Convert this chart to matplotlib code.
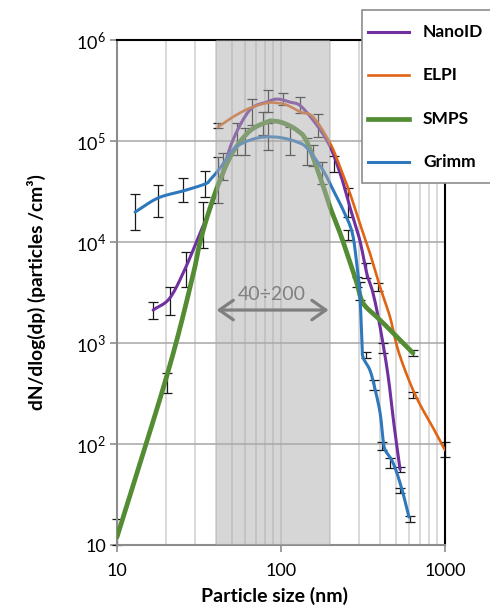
import numpy as np
import matplotlib
matplotlib.use("Agg")
import matplotlib.pyplot as plt
from matplotlib.lines import Line2D
from matplotlib.patches import Rectangle
from matplotlib.ticker import LogLocator, FixedLocator, FixedFormatter, NullLocator, NullFormatter

plt.rcParams["font.family"] = ["Lato", "DejaVu Sans"]
plt.rcParams["mathtext.fontset"] = "custom"
plt.rcParams["mathtext.rm"] = "Lato"

# Curves (particle size in nm, dN/dlog(dp) in particles/cm3)
nanoid_x = [16.6, 21.0, 26.3, 32.1, 36.9, 42.5, 50.9, 64.6, 82, 94.5, 113, 136, 190, 229, 263, 302, 333, 364, 402, 449, 489, 532]
nanoid_y = [2120, 2790, 5650, 12300, 20800, 41100, 102000, 203000, 243000, 260000, 243000, 212000, 102000, 48200, 22200, 10500, 4930, 3120, 1440, 482, 154, 56]

elpi_x = [41.4, 50.9, 64.6, 82, 94.5, 108.7, 131, 157, 199, 229, 263, 302, 348, 402, 462, 517, 612, 705, 845, 1000]
elpi_y = [138000, 173000, 212000, 238000, 238000, 227000, 194000, 173000, 95500, 55300, 30500, 15400, 7780, 3580, 1810, 853, 402, 245, 145, 87]

smps_x = [10, 20.2, 28.6, 32.1, 36.9, 42.5, 50.9, 64.6, 82, 89, 103, 125, 144, 178, 199, 229, 263, 290, 316, 384, 444, 532, 638]
smps_y = [12, 482, 4200, 10000, 21700, 41100, 77800, 126000, 154000, 158000, 151000, 128000, 97900, 38400, 22200, 12300, 6340, 3930, 2490, 1810, 1440, 1070, 796]

grimm_x = [12.9, 17.8, 25.3, 34.4, 36.9, 42.5, 50.9, 58.5, 71.4, 85.6, 103, 125, 144, 180, 208, 239, 272, 290, 302, 312, 316, 348, 372, 402, 419, 432, 473, 509, 554, 603]
grimm_y = [19800, 27300, 32000, 37500, 41100, 54000, 81500, 95500, 107000, 110000, 107000, 97900, 85300, 51600, 32700, 20800, 12300, 5920, 3160, 1000, 727, 541, 366, 203, 110, 87, 69.5, 51.6, 32.7, 18.9]

# Error bars (size, lower, upper)
nanoid_err_x = [16.6, 21.0, 26.3, 33.4, 41.4, 53.9, 83.3, 131, 210, 330, 419, 532]
nanoid_err_lo = [1730, 1890, 3580, 8730, 24300, 72600, 194000, 189000, 49300, 4400, 796, 52.8]
nanoid_err_hi = [2550, 3580, 7960, 24900, 69500, 151000, 320000, 273000, 71000, 6200, 1000, 59.2]

elpi_err_x = [41.4, 66.5, 103, 168, 255, 390, 638, 1000]
elpi_err_lo = [134600, 144000, 227000, 110000, 17700, 3300, 285, 74.3]
elpi_err_hi = [151000, 261000, 299000, 185000, 34300, 3900, 327, 105]

smps_err_x = [10, 20.2, 77.6, 144, 290, 638]
smps_err_lo = [10, 320, 115000, 57800, 3580, 743]
smps_err_hi = [18, 505, 194000, 107000, 4500, 853]

grimm_err_x = [12.9, 17.8, 25.3, 34.4, 44.2, 60.3, 83.3, 113, 157, 178, 255, 302, 330, 367, 415, 462, 532, 612]
grimm_err_lo = [13200, 17700, 24900, 27900, 41100, 72600, 81500, 72600, 56500, 37500, 10500, 2670, 710, 343, 87, 57.8, 32.7, 16.9]
grimm_err_hi = [29900, 36600, 43000, 50400, 76000, 134600, 151000, 138000, 91200, 62000, 13200, 4020, 815, 430, 105, 72.6, 36.6, 19.4]

range_lo, range_hi = 40, 200
y_ticks = [10, 1e2, 1e3, 1e4, 1e5, 1e6]
y_tick_labels = ["10", r"$10^{2}$", r"$10^{3}$", r"$10^{4}$", r"$10^{5}$", r"$10^{6}$"]
x_ticks = [10, 100, 1000]
x_tick_labels = ["10", "100", "1000"]


def smooth(xs, ys, n=12):
    # Catmull-Rom through the points in log-log space (like Excel smoothed lines)
    lx, ly = np.log10(xs), np.log10(ys)
    px = np.concatenate([[2 * lx[0] - lx[1]], lx, [2 * lx[-1] - lx[-2]]])
    py = np.concatenate([[2 * ly[0] - ly[1]], ly, [2 * ly[-1] - ly[-2]]])
    outx, outy = [], []
    t = np.linspace(0, 1, n, endpoint=False)
    for i in range(1, len(px) - 2):
        for p, out in ((px, outx), (py, outy)):
            p0, p1, p2, p3 = p[i - 1], p[i], p[i + 1], p[i + 2]
            out.extend(0.5 * ((2 * p1) + (-p0 + p2) * t
                              + (2 * p0 - 5 * p1 + 4 * p2 - p3) * t ** 2
                              + (-p0 + 3 * p1 - 3 * p2 + p3) * t ** 3))
    outx.append(lx[-1])
    outy.append(ly[-1])
    return 10 ** np.array(outx), 10 ** np.array(outy)


series = [
    ("NanoID", "#7030a0", 2.2, nanoid_x, nanoid_y, nanoid_err_x, nanoid_err_lo, nanoid_err_hi),
    ("ELPI", "#e06414", 1.9, elpi_x, elpi_y, elpi_err_x, elpi_err_lo, elpi_err_hi),
    ("SMPS", "#548c34", 3.4, smps_x, smps_y, smps_err_x, smps_err_lo, smps_err_hi),
    ("Grimm", "#2e78bc", 2.2, grimm_x, grimm_y, grimm_err_x, grimm_err_lo, grimm_err_hi),
]

fig = plt.figure(figsize=(4.9, 6.08), dpi=100)
ax = fig.add_axes([117 / 490, 63 / 608, 328 / 490, 505 / 608])
ax.set_xscale("log")
ax.set_yscale("log")
ax.set_xlim(10, 1000)
ax.set_ylim(10, 1e6)

# Error bars below the lines
for name, color, lw, x, y, ex, elo, ehi in series:
    ex, elo, ehi = np.array(ex), np.array(elo), np.array(ehi)
    mid = np.sqrt(elo * ehi)
    ax.errorbar(ex, mid, yerr=[mid - elo, ehi - mid], fmt="none", ecolor="#1a1a1a",
                elinewidth=0.9, capsize=3.5, capthick=0.9, zorder=2, clip_on=False)

for name, color, lw, x, y, ex, elo, ehi in series:
    sx, sy = smooth(x, y)
    ax.plot(sx, sy, color=color, lw=lw, solid_capstyle="round", zorder=3)

# Shaded size range on top, semi transparent
ax.axvspan(range_lo, range_hi, color="#b0aeb0", alpha=0.5, lw=0, zorder=4)
ax.annotate("", xy=(195, 2120), xytext=(40.5, 2120),
            arrowprops=dict(arrowstyle="<->,head_length=0.5,head_width=0.35", color="#7f7f7f",
                            lw=2.3, mutation_scale=20, shrinkA=0, shrinkB=0), zorder=6)
ax.text(88, 3050, "40÷200", color="#808080", fontsize=14, ha="center", va="center", zorder=6)

# Axes styling
ax.xaxis.set_major_locator(FixedLocator(x_ticks))
ax.xaxis.set_major_formatter(FixedFormatter(x_tick_labels))
ax.xaxis.set_minor_locator(LogLocator(base=10, subs=np.arange(2, 10)))
ax.xaxis.set_minor_formatter(NullFormatter())
ax.yaxis.set_major_locator(FixedLocator(y_ticks))
ax.yaxis.set_major_formatter(FixedFormatter(y_tick_labels))
ax.yaxis.set_minor_locator(NullLocator())

ax.grid(which="major", axis="y", color="#a6a6a6", lw=1.1)
ax.grid(which="both", axis="x", color="#cfcfcf", lw=1.1)
ax.set_axisbelow(True)

ax.tick_params(axis="both", which="major", labelsize=13, length=5, width=1.2,
               color="#8c8c8c", pad=3)
ax.tick_params(axis="x", which="minor", length=0)
ax.tick_params(axis="x", which="major", pad=8)

for side in ("left", "bottom"):
    ax.spines[side].set_color("#8c8c8c")
    ax.spines[side].set_linewidth(1.5)
for side in ("top", "right"):
    ax.spines[side].set_color("black")
    ax.spines[side].set_linewidth(1.5)

ax.set_xlabel("Particle size (nm)", fontsize=14, fontweight="bold")
ax.xaxis.set_label_coords(0.48, -0.083)
ax.set_ylabel("dN/dlog(dp) (particles /cm³)", fontsize=13.8, fontweight="bold")
ax.yaxis.set_label_coords(-0.215, 0.5)

# Legend box drawn in figure pixels
W, H = 490, 608
fig.add_artist(Rectangle((362 / W, 1 - 183 / H), 200 / W, 173 / H, transform=fig.transFigure,
                         facecolor="white", edgecolor="#8c8c8c", lw=1.2, zorder=10))
for i, (name, color, lw, *_rest) in enumerate(series):
    yy = 1 - (32 + 43.3 * i) / H
    fig.add_artist(Line2D([368 / W, 409 / W], [yy, yy], transform=fig.transFigure,
                          color=color, lw=lw, zorder=11))
    fig.text(423 / W, yy, name, fontsize=12.5, fontweight="bold", va="center", ha="left", zorder=11)

fig.savefig("out.png", dpi=100)
